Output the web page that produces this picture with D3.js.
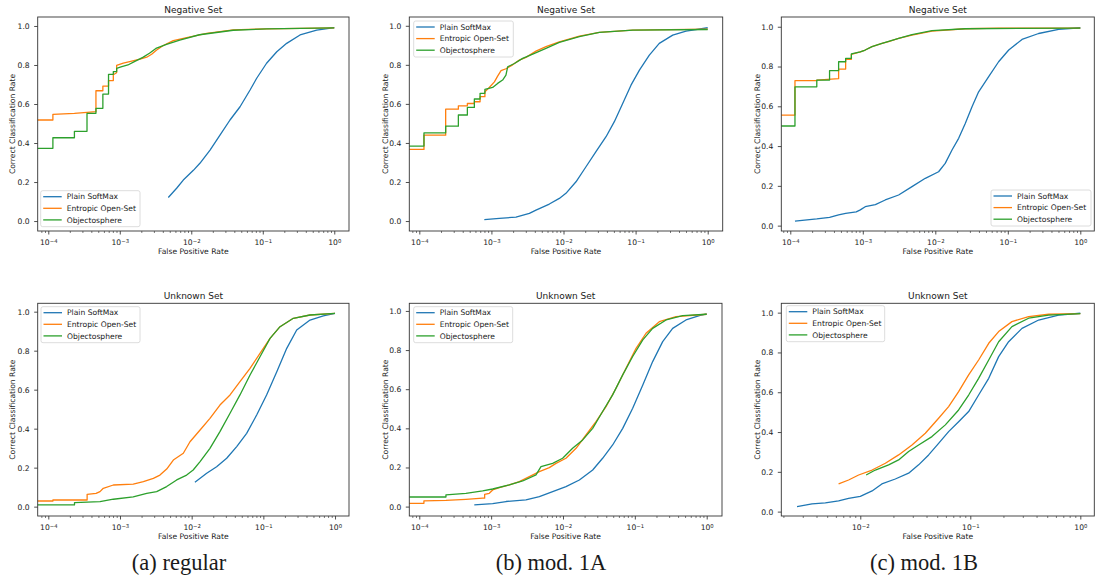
<!DOCTYPE html>
<html>
<head>
<meta charset="utf-8">
<script src="https://cdn.jsdelivr.net/npm/d3@7"></script>
<style>
body{margin:0;background:#fff}
svg text{font-family:"DejaVu Sans",sans-serif;fill:#1a1a1a}
</style>
</head>
<body>
<div id="chart"></div>
<script>
// series names / colours / texts
const seriesNames = ['Plain SoftMax', 'Entropic Open-Set', 'Objectosphere'];
const seriesColors = ['#1f77b4', '#ff7f0e', '#2ca02c'];
const panelTitles = ['Negative Set', 'Unknown Set'];
const captions = ['(a) regular', '(b) mod. 1A', '(c) mod. 1B'];
const yTicks = [0, 0.2, 0.4, 0.6, 0.8, 1.0];

// [false positive rate, correct classification rate]  (fpr 0 = left edge on log axis)
// ---- (a) regular ----
const negA_plain = [[4.77e-3,0.121],[6.24e-3,0.168],[7.73e-3,0.21],[1.07e-2,0.26],[1.32e-2,0.296],[1.83e-2,0.364],[2.52e-2,0.441],[3.48e-2,0.518],[4.81e-2,0.586],[6.64e-2,0.672],[8.22e-2,0.732],[0.113,0.809],[0.157,0.868],[0.216,0.911],[0.332,0.954],[0.568,0.979],[1,0.991]];
const negA_entropic = [[0,0.518],[1.16e-4,0.518],[1.16e-4,0.547],[2.32e-4,0.552],[3.48e-4,0.557],[4.64e-4,0.561],[4.64e-4,0.668],[5.8e-4,0.668],[5.8e-4,0.692],[6.96e-4,0.692],[6.96e-4,0.72],[8.12e-4,0.72],[8.12e-4,0.75],[9.04e-4,0.76],[9.04e-4,0.798],[1.12e-3,0.81],[1.47e-3,0.82],[1.92e-3,0.83],[2.38e-3,0.84],[2.79e-3,0.855],[3.28e-3,0.877],[4.06e-3,0.9],[5.6e-3,0.925],[8.63e-3,0.94],[1.64e-2,0.962],[3.86e-2,0.98],[0.113,0.985],[1,0.99]];
const negA_objecto = [[0,0.373],[1.16e-4,0.373],[1.16e-4,0.427],[2.32e-4,0.427],[2.32e-4,0.46],[3.48e-4,0.46],[3.48e-4,0.552],[4.64e-4,0.552],[4.64e-4,0.578],[5.8e-4,0.578],[5.8e-4,0.651],[6.96e-4,0.651],[6.96e-4,0.752],[8.12e-4,0.752],[8.12e-4,0.766],[9.04e-4,0.766],[9.04e-4,0.783],[1.04e-3,0.79],[1.3e-3,0.8],[1.6e-3,0.817],[2.1e-3,0.839],[2.6e-3,0.86],[3.2e-3,0.885],[4.5e-3,0.906],[6.9e-3,0.928],[1.3e-2,0.955],[3.86e-2,0.978],[0.113,0.985],[1,0.99]];
const unkA_plain = [[1.11e-2,0.125],[1.62e-2,0.171],[2.23e-2,0.205],[3.08e-2,0.248],[4.25e-2,0.308],[5.85e-2,0.376],[8.07e-2,0.47],[0.111,0.573],[0.154,0.692],[0.212,0.812],[0.292,0.906],[0.448,0.957],[0.687,0.979],[1,0.991]];
const unkA_entropic = [[0,0.029],[1.16e-4,0.029],[1.16e-4,0.034],[3.48e-4,0.034],[3.48e-4,0.063],[4.64e-4,0.068],[5.26e-4,0.077],[5.85e-4,0.094],[8.08e-4,0.111],[1.53e-3,0.115],[2.12e-3,0.128],[2.92e-3,0.145],[3.61e-3,0.162],[4.48e-3,0.193],[5.55e-3,0.239],[7.65e-3,0.274],[9.48e-3,0.333],[1.31e-2,0.393],[1.8e-2,0.453],[2.48e-2,0.521],[3.43e-2,0.573],[4.72e-2,0.641],[6.52e-2,0.709],[8.98e-2,0.786],[0.124,0.863],[0.171,0.923],[0.262,0.966],[0.448,0.983],[1,0.991]];
const unkA_objecto = [[0,0.009],[2.32e-4,0.009],[2.32e-4,0.021],[5.26e-4,0.026],[8.08e-4,0.038],[1.53e-3,0.05],[2.36e-3,0.068],[3.25e-3,0.077],[4.48e-3,0.103],[6.18e-3,0.137],[8.51e-3,0.162],[1.05e-2,0.188],[1.31e-2,0.231],[1.8e-2,0.299],[2.48e-2,0.385],[3.43e-2,0.479],[4.72e-2,0.573],[6.52e-2,0.675],[8.98e-2,0.769],[0.124,0.863],[0.171,0.923],[0.262,0.966],[0.448,0.983],[1,0.991]];

// ---- (b) mod. 1A ----
const negB_plain = [[7.97e-4,0.007],[1.29e-3,0.014],[2.19e-3,0.02],[3.36e-3,0.039],[4.15e-3,0.056],[6.36e-3,0.087],[8.75e-3,0.116],[1.08e-2,0.142],[1.49e-2,0.201],[2.05e-2,0.278],[2.82e-2,0.355],[3.89e-2,0.432],[5.07e-2,0.509],[6.62e-2,0.602],[8.63e-2,0.696],[0.113,0.773],[0.155,0.85],[0.213,0.91],[0.327,0.952],[0.5,0.973],[1,0.99]];
const negB_entropic = [[0,0.367],[1.16e-4,0.367],[1.16e-4,0.44],[2.32e-4,0.44],[2.32e-4,0.573],[3.48e-4,0.573],[3.48e-4,0.59],[4.64e-4,0.59],[4.64e-4,0.602],[5.8e-4,0.602],[5.8e-4,0.611],[6.96e-4,0.611],[6.96e-4,0.637],[8.12e-4,0.637],[8.12e-4,0.662],[9.35e-4,0.684],[1.1e-3,0.713],[1.22e-3,0.742],[1.36e-3,0.77],[1.59e-3,0.78],[1.97e-3,0.8],[2.44e-3,0.824],[3.02e-3,0.838],[4.15e-3,0.87],[5.71e-3,0.893],[8.75e-3,0.918],[1.66e-2,0.947],[3.14e-2,0.966],[9.12e-2,0.978],[1,0.983]];
const negB_objecto = [[0,0.384],[1.16e-4,0.384],[1.16e-4,0.452],[2.32e-4,0.452],[2.32e-4,0.486],[3.48e-4,0.486],[3.48e-4,0.543],[4.64e-4,0.543],[4.64e-4,0.582],[5.8e-4,0.582],[5.8e-4,0.625],[6.96e-4,0.625],[6.96e-4,0.654],[8.12e-4,0.654],[8.12e-4,0.674],[1.04e-3,0.684],[1.22e-3,0.705],[1.43e-3,0.722],[1.59e-3,0.747],[1.68e-3,0.79],[2.08e-3,0.807],[2.71e-3,0.833],[3.74e-3,0.855],[5.71e-3,0.884],[8.75e-3,0.915],[1.66e-2,0.944],[3.14e-2,0.966],[9.12e-2,0.978],[1,0.981]];
const unkB_plain = [[5.83e-4,0.009],[1.05e-3,0.015],[1.61e-3,0.026],[3.05e-3,0.034],[4.69e-3,0.051],[7.18e-3,0.077],[1.1e-2,0.102],[1.69e-2,0.136],[2.59e-2,0.187],[3.56e-2,0.247],[4.91e-2,0.315],[6.78e-2,0.4],[9.33e-2,0.503],[0.129,0.622],[0.177,0.741],[0.244,0.843],[0.336,0.911],[0.515,0.954],[0.79,0.976],[1,0.985]];
const unkB_entropic = [[0,0.017],[1.16e-4,0.017],[1.16e-4,0.029],[2.35e-4,0.032],[4.46e-4,0.037],[7.62e-4,0.043],[8.12e-4,0.043],[8.12e-4,0.062],[9.42e-4,0.068],[1.05e-3,0.085],[1.3e-3,0.097],[1.79e-3,0.111],[2.47e-3,0.128],[3.4e-3,0.153],[4.69e-3,0.179],[6.45e-3,0.199],[8e-3,0.221],[1.1e-2,0.247],[1.52e-2,0.298],[2.09e-2,0.366],[2.88e-2,0.434],[3.97e-2,0.511],[5.47e-2,0.605],[7.54e-2,0.707],[0.104,0.809],[0.143,0.886],[0.219,0.945],[0.374,0.971],[1,0.983]];
const unkB_objecto = [[0,0.049],[2.35e-4,0.049],[2.35e-4,0.06],[4.46e-4,0.068],[7.62e-4,0.08],[1.05e-3,0.09],[1.79e-3,0.111],[2.75e-3,0.131],[4.21e-3,0.162],[4.94e-3,0.204],[7.18e-3,0.221],[9.89e-3,0.247],[1.36e-2,0.298],[1.88e-2,0.341],[2.59e-2,0.4],[3.56e-2,0.486],[4.91e-2,0.571],[6.78e-2,0.673],[9.33e-2,0.767],[0.129,0.852],[0.177,0.911],[0.272,0.954],[0.463,0.976],[1,0.983]];

// ---- (c) mod. 1B ----
const negC_plain = [[1.16e-4,0.023],[2.32e-4,0.034],[3.48e-4,0.042],[4.64e-4,0.054],[5.8e-4,0.062],[8.12e-4,0.069],[9.24e-4,0.079],[1.08e-3,0.095],[1.49e-3,0.106],[2.04e-3,0.129],[3.12e-3,0.154],[4.77e-3,0.196],[7.28e-3,0.238],[1.11e-2,0.271],[1.37e-2,0.313],[1.7e-2,0.38],[2.1e-2,0.439],[2.59e-2,0.514],[3.21e-2,0.598],[3.96e-2,0.673],[5.45e-2,0.749],[7.47e-2,0.824],[0.103,0.883],[0.157,0.936],[0.266,0.966],[0.502,0.987],[1,0.995]];
const negC_entropic = [[0,0.556],[1.16e-4,0.556],[1.16e-4,0.729],[2.32e-4,0.729],[2.32e-4,0.732],[4.64e-4,0.739],[4.64e-4,0.787],[5.8e-4,0.787],[5.8e-4,0.836],[6.96e-4,0.836],[6.96e-4,0.861],[9.24e-4,0.874],[1.08e-3,0.883],[1.34e-3,0.9],[1.84e-3,0.916],[2.27e-3,0.925],[3.12e-3,0.941],[4.77e-3,0.958],[9e-3,0.978],[2.59e-2,0.99],[7.47e-2,0.993],[1,0.993]];
const negC_objecto = [[0,0.501],[1.16e-4,0.501],[1.16e-4,0.698],[2.32e-4,0.698],[2.32e-4,0.732],[3.48e-4,0.732],[3.48e-4,0.779],[4.64e-4,0.779],[4.64e-4,0.824],[5.8e-4,0.824],[5.8e-4,0.841],[6.96e-4,0.841],[6.96e-4,0.863],[9.24e-4,0.874],[1.08e-3,0.883],[1.34e-3,0.9],[1.84e-3,0.916],[3.12e-3,0.941],[4.77e-3,0.96],[9e-3,0.98],[2.59e-2,0.99],[1,0.993]];
const unkC_plain = [[2.66e-3,0.025],[3.64e-3,0.039],[4.81e-3,0.044],[6.35e-3,0.054],[7.83e-3,0.067],[1e-2,0.077],[1.28e-2,0.104],[1.57e-2,0.139],[2.08e-2,0.164],[2.75e-2,0.193],[3.39e-2,0.235],[4.18e-2,0.285],[5.15e-2,0.343],[6.35e-2,0.402],[7.83e-2,0.452],[9.66e-2,0.503],[0.119,0.586],[0.147,0.67],[0.181,0.779],[0.223,0.854],[0.295,0.921],[0.418,0.963],[0.635,0.988],[1,0.997]];
const unkC_entropic = [[6.35e-3,0.139],[7.83e-3,0.159],[9.66e-3,0.184],[1.28e-2,0.209],[1.69e-2,0.243],[2.23e-2,0.285],[2.95e-2,0.335],[3.9e-2,0.394],[5.15e-2,0.469],[6.35e-2,0.528],[7.83e-2,0.603],[9.66e-2,0.687],[0.119,0.762],[0.147,0.846],[0.181,0.905],[0.239,0.955],[0.339,0.98],[0.515,0.992],[1,0.995]];
const unkC_objecto = [[1.13e-2,0.184],[1.37e-2,0.209],[1.81e-2,0.235],[2.23e-2,0.26],[2.75e-2,0.302],[3.39e-2,0.335],[4.48e-2,0.377],[5.93e-2,0.436],[7.83e-2,0.511],[9.66e-2,0.586],[0.119,0.67],[0.147,0.762],[0.181,0.854],[0.239,0.93],[0.339,0.972],[0.515,0.988],[1,0.995]];

// layout of the six axes (pixels) + axis ranges
const panels = [
  {series:[negA_plain,negA_entropic,negA_objecto], title:0, l:37.7, r:349, t:17, b:231, xExp:[-4.148,0.206], yDom:[-0.051,1.046], leg:[40.7,190.7,99.3], ylx:12.7},
  {series:[negB_plain,negB_entropic,negB_objecto], title:0, l:409.3, r:722.7, t:17, b:231, xExp:[-4.139,0.208], yDom:[-0.051,1.045], leg:[413.7,21,99.6], ylx:385},
  {series:[negC_plain,negC_entropic,negC_objecto], title:0, l:781.3, r:1094.3, t:17, b:231, xExp:[-4.124,0.193], yDom:[-0.027,1.049], leg:[991,190,100], ylx:757},
  {series:[unkA_plain,unkA_entropic,unkA_objecto], title:1, l:37.7, r:349, t:303.3, b:516, xExp:[-4.148,0.195], yDom:[-0.048,1.043], leg:[41,306.7,99], ylx:12.7},
  {series:[unkB_plain,unkB_entropic,unkB_objecto], title:1, l:409.3, r:722, t:303.3, b:516, xExp:[-4.139,0.213], yDom:[-0.048,1.039], leg:[413.7,306.7,99], ylx:385},
  {series:[unkC_plain,unkC_entropic,unkC_objecto], title:1, l:781.3, r:1094.3, t:303.3, b:516, xExp:[-2.718,0.127], yDom:[-0.022,1.047], leg:[786.3,305.7,98.4], ylx:757}
];
const captionX = [179, 551, 924];

const fs = 7.6;
const svg = d3.select('#chart').append('svg').attr('width', 1098).attr('height', 580);
const defs = svg.append('defs');

panels.forEach((p, i) => {
  const x = d3.scaleLog().domain([10 ** p.xExp[0], 10 ** p.xExp[1]]).range([p.l, p.r]);
  const y = d3.scaleLinear().domain(p.yDom).range([p.b, p.t]);
  const g = svg.append('g');

  defs.append('clipPath').attr('id', 'clip' + i).append('rect')
    .attr('x', p.l).attr('y', p.t).attr('width', p.r - p.l).attr('height', p.b - p.t);

  // curves
  const line = d3.line().x(d => d[0] > 0 ? x(d[0]) : p.l - 20).y(d => y(d[1]));
  const curves = g.append('g').attr('clip-path', `url(#clip${i})`);
  p.series.forEach((s, k) => {
    curves.append('path').attr('d', line(s))
      .attr('fill', 'none').attr('stroke', seriesColors[k])
      .attr('stroke-width', 1.3).attr('stroke-linejoin', 'round');
  });

  // y axis
  const yAx = g.append('g').attr('transform', `translate(${p.l},0)`)
    .call(d3.axisLeft(y).tickValues(yTicks).tickFormat(d3.format('.1f')).tickSize(3.5).tickPadding(4.5));
  yAx.select('.domain').remove();
  yAx.selectAll('.tick line').attr('stroke', '#222').attr('stroke-width', 0.8);
  yAx.selectAll('.tick text').attr('font-size', fs).attr('font-family', '"DejaVu Sans",sans-serif').attr('fill', '#1a1a1a');

  // x axis: decades + minor ticks
  const lo = Math.ceil(p.xExp[0]), hi = Math.floor(p.xExp[1]);
  const decades = d3.range(lo, hi + 1);
  const minors = [];
  d3.range(Math.floor(p.xExp[0]), hi + 1).forEach(e => {
    for (let m = 2; m <= 9; m++) {
      const v = m * 10 ** e;
      if (Math.log10(v) >= p.xExp[0] && Math.log10(v) <= p.xExp[1]) minors.push(v);
    }
  });
  const xMin = g.append('g').attr('transform', `translate(0,${p.b})`)
    .call(d3.axisBottom(x).tickValues(minors).tickFormat('').tickSize(2));
  xMin.select('.domain').remove();
  xMin.selectAll('.tick line').attr('stroke', '#222').attr('stroke-width', 0.6);

  const xAx = g.append('g').attr('transform', `translate(0,${p.b})`)
    .call(d3.axisBottom(x).tickValues(decades.map(e => 10 ** e)).tickFormat('').tickSize(3.5).tickPadding(5));
  xAx.select('.domain').remove();
  xAx.selectAll('.tick line').attr('stroke', '#222').attr('stroke-width', 0.8);
  xAx.selectAll('.tick text').each(function (d) {
    const e = Math.round(Math.log10(d));
    const t = d3.select(this).attr('font-size', fs).attr('font-family', '"DejaVu Sans",sans-serif').attr('fill', '#1a1a1a');
    t.append('tspan').text('10');
    t.append('tspan').attr('dy', '-0.42em').attr('font-size', fs * 0.7).text(e < 0 ? '\u2212' + (-e) : String(e));
  });

  // frame
  g.append('rect').attr('x', p.l).attr('y', p.t).attr('width', p.r - p.l).attr('height', p.b - p.t)
    .attr('fill', 'none').attr('stroke', '#333').attr('stroke-width', 0.9);

  // title + axis labels
  g.append('text').attr('x', (p.l + p.r) / 2).attr('y', p.t - 4.5).attr('text-anchor', 'middle')
    .attr('font-size', 9).text(panelTitles[p.title]);
  g.append('text').attr('x', (p.l + p.r) / 2).attr('y', p.b + 23).attr('text-anchor', 'middle')
    .attr('font-size', fs).text('False Positive Rate');
  g.append('text').attr('transform', `translate(${p.ylx},${(p.t + p.b) / 2}) rotate(-90)`)
    .attr('dy', '0.35em').attr('text-anchor', 'middle').attr('font-size', fs).text('Correct Classification Rate');

  // legend
  const [lx, ly, lw] = p.leg;
  const lg = g.append('g').attr('transform', `translate(${lx},${ly})`);
  lg.append('rect').attr('width', lw).attr('height', 36).attr('rx', 2)
    .attr('fill', '#fff').attr('fill-opacity', 0.8).attr('stroke', '#d3d3d3').attr('stroke-width', 0.8);
  seriesNames.forEach((name, k) => {
    const ry = 6 + k * 11.6;
    lg.append('line').attr('x1', 2.5).attr('x2', 21).attr('y1', ry).attr('y2', ry)
      .attr('stroke', seriesColors[k]).attr('stroke-width', 1.3);
    lg.append('text').attr('x', 26).attr('y', ry).attr('dy', '0.35em').attr('font-size', fs).text(name);
  });
});

// sub-figure captions
svg.selectAll('.caption').data(captions).join('text')
  .attr('class', 'caption')
  .attr('x', (d, i) => captionX[i]).attr('y', 570).attr('text-anchor', 'middle')
  .style('font-family', '"Liberation Serif","Times New Roman",serif').style('font-size', '22.5px')
  .text(d => d);
</script>
</body>
</html>
